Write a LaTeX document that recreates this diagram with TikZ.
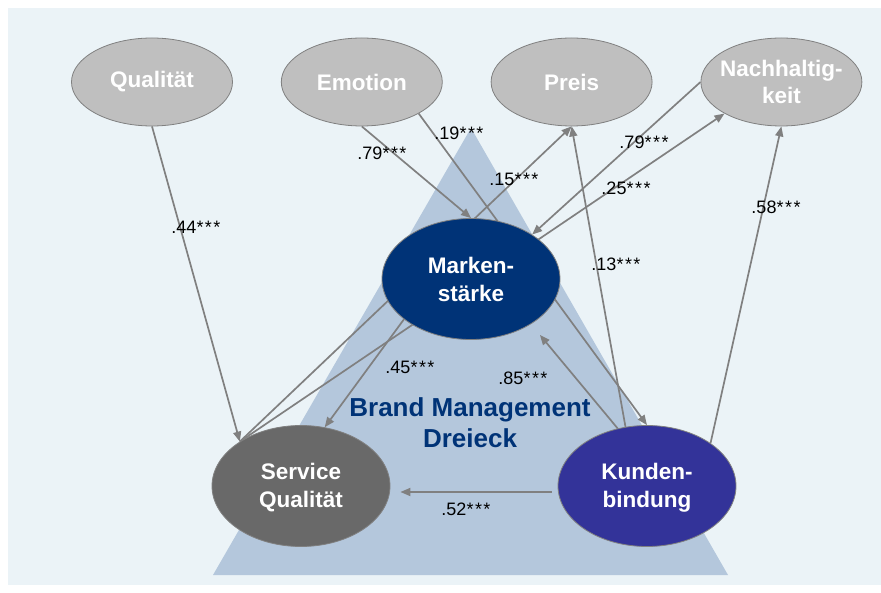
\documentclass[tikz,border=0pt]{standalone}
\usepackage{fontspec}
\setmainfont{Liberation Sans}
\usetikzlibrary{arrows.meta,positioning,shapes.geometric}
\definecolor{panel}{RGB}{235,243,247}
\definecolor{tri}{RGB}{180,199,220}
\definecolor{ovalgray}{RGB}{191,191,191}
\definecolor{navy}{RGB}{0,51,119}
\definecolor{indigo}{RGB}{51,51,153}
\definecolor{servgray}{RGB}{105,105,105}
\definecolor{wire}{RGB}{128,128,128}
\pgfdeclarelayer{back}
\pgfdeclarelayer{wires}
\pgfsetlayers{back,wires,main}
\newcommand\stars{*\kern1.5pt*\kern1.5pt*}

\begin{document}
\begin{tikzpicture}[
  x=1pt, y=-1pt,
  node distance=48pt,
  oval/.style={ellipse, draw=wire, line width=0.8pt, inner sep=0pt, align=center,
               text=white, font=\fontsize{22.5}{27}\selectfont\bfseries},
  factor/.style={oval, fill=ovalgray, inner xsep=-8pt,
                 minimum width=161pt, minimum height=88pt},
  core/.style={oval, minimum width=178pt, minimum height=121pt,
               font=\fontsize{22.5}{28}\selectfont\bfseries},
  coef/.style={font=\fontsize{18}{20}\selectfont, inner sep=0pt},
  conn/.style={-{Triangle[length=10pt,width=8pt]}, draw=wire, line width=1.7pt}
]
\useasboundingbox (0,0) rectangle (881,593);
\begin{pgfonlayer}{back}
\fill[white] (0,0) rectangle (881,593);
\fill[panel] (8,8) rectangle (881,585);
\fill[tri] (213,575) -- (728,575) -- (471,128) -- cycle;
\end{pgfonlayer}

\node[factor] (qual) at (152,82) {Qualität};
\node[factor, right=of qual] (emo) {Emotion};
\node[factor, right=of emo] (preis) {Preis};
\node[factor, right=of preis] (nach) {Nachhaltig-\\keit};
\node[core, fill=navy] (mark) at (471,279) {Marken-\\stärke};
\node[core, fill=servgray] (serv) at (301,486) {\rule{0pt}{20pt}Service\\Qualität};
\node[core, fill=indigo] (kund) at (647,486) {\rule{0pt}{20pt}Kunden-\\bindung};
\node[text=navy, align=center, font=\fontsize{26}{31}\selectfont\bfseries]
  (dreieck) at (470,423) {Brand Management\\Dreieck};

\node[coef] (c44) at (196,227) {.44\stars};
\node[coef] (c79a) at (382,153) {.79\stars};
\node[coef] (c19) at (459,133) {.19\stars};
\node[coef] (c15) at (514,179) {.15\stars};
\node[coef] (c79b) at (644,142) {.79\stars};
\node[coef] (c25) at (626,188) {.25\stars};
\node[coef] (c13) at (616,264) {.13\stars};
\node[coef] (c58) at (776,207) {.58\stars};
\node[coef] (c45) at (410,367) {.45\stars};
\node[coef] (c85) at (523,378) {.85\stars};
\node[coef] (c52) at (466,509) {.52\stars};

\begin{pgfonlayer}{wires}
\draw[conn] (qual.south) -- (serv.144);
\draw[conn] (emo.south) -- (mark.north);
\draw[conn] (emo.-29) -- (kund.north);
\draw[conn] (serv.144) -- (preis.south);
\draw[conn] (nach.west) -- (mark.36);
\draw[conn] (serv.144) -- (nach.209);
\draw[conn] (kund.110) -- (preis.south);
\draw[conn] (kund.34) -- (nach.south);
\draw[conn] (mark.211) -- (serv.68);
\draw[conn, shorten >=14pt] (kund.117) -- (mark.-37);
\draw[conn, shorten <=6pt, shorten >=10pt] ([yshift=-6pt]kund.west) -- ([yshift=-6pt]serv.east);
\end{pgfonlayer}
\end{tikzpicture}
\end{document}
